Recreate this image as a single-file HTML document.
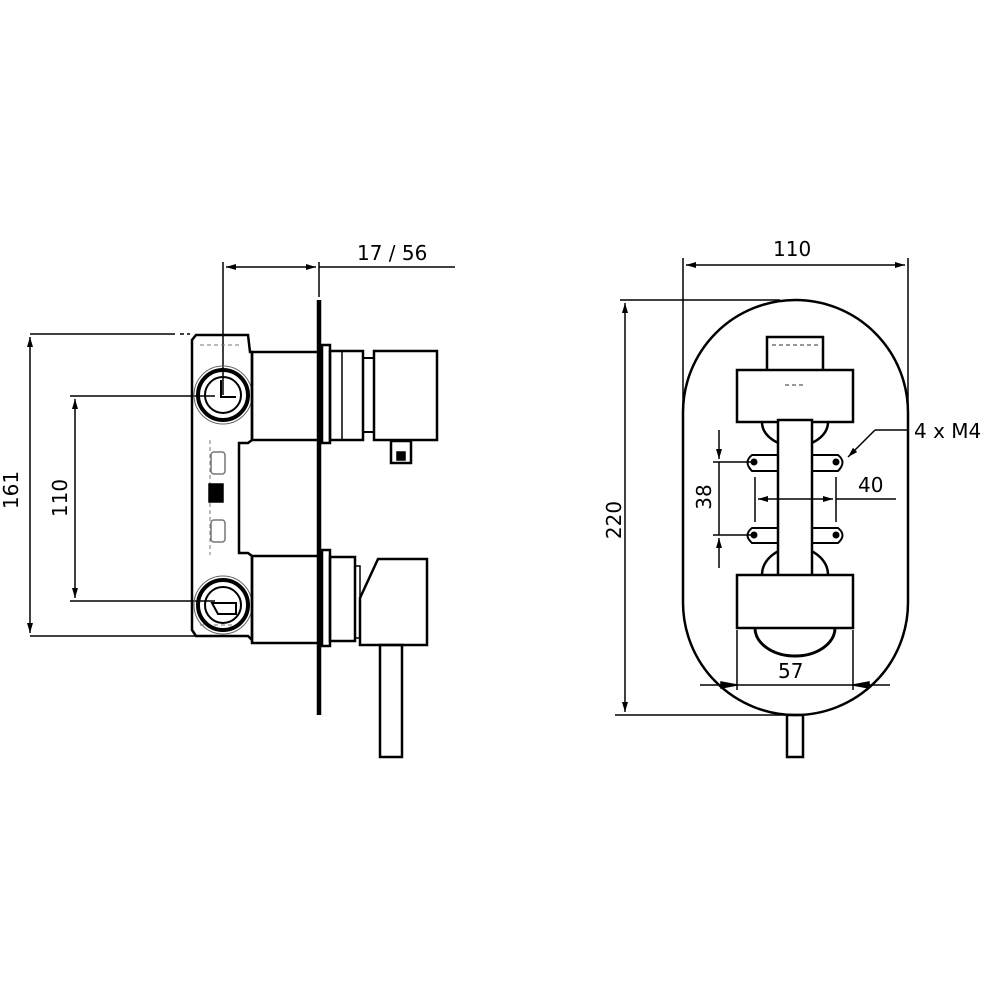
<!DOCTYPE html>
<html><head><meta charset="utf-8"><style>
html,body{margin:0;padding:0;background:#fff;width:1000px;height:1000px;overflow:hidden}
text{font-family:"DejaVu Sans","Liberation Sans",sans-serif;font-size:20px;fill:#000}
</style></head><body>
<svg width="1000" height="1000" viewBox="0 0 1000 1000" xmlns="http://www.w3.org/2000/svg">
<defs>
<marker id="a" viewBox="0 0 10 6" refX="10" refY="3" markerWidth="10" markerHeight="6" orient="auto-start-reverse" markerUnits="userSpaceOnUse"><path d="M0,0L10,3L0,6z" fill="#000"/></marker>
</defs>
<g fill="none" stroke="#000" stroke-width="1.5">
<line x1="30" y1="334" x2="175" y2="334"/>
<line x1="180" y1="334" x2="190" y2="334" stroke-dasharray="4,3"/>
<line x1="30" y1="636" x2="195" y2="636"/>
<line x1="30" y1="337" x2="30" y2="633" marker-start="url(#a)" marker-end="url(#a)"/>
<line x1="70" y1="396" x2="215" y2="396"/>
<line x1="70" y1="601" x2="215" y2="601"/>
<line x1="75" y1="399" x2="75" y2="598" marker-start="url(#a)" marker-end="url(#a)"/>
<line x1="223" y1="262" x2="223" y2="395"/>
<line x1="319" y1="262" x2="319" y2="297"/>
<line x1="226" y1="267" x2="316" y2="267" marker-start="url(#a)" marker-end="url(#a)"/>
<line x1="319" y1="267" x2="455" y2="267"/>
<path d="M196,335 L248,335 L250,352 L252,352 L252,440 L248,443 L239,443 L239,553 L248,553 L252,556 L252,640 L248,636 L196,636 L192,630 L192,340 Z" stroke-width="2.5"/>
<path d="M200,345 L240,345 M200,625 L240,625 M210,440 L210,555" stroke="#777" stroke-width="1" stroke-dasharray="4,3"/>
<circle cx="223" cy="395" r="25" stroke-width="4"/>
<circle cx="223" cy="395" r="18" stroke-width="2"/>
<circle cx="223" cy="395" r="29" stroke="#666" stroke-width="1"/>
<path d="M221,380 L221,397 L236,397" stroke-width="2"/>
<circle cx="223" cy="605" r="25" stroke-width="4"/>
<circle cx="223" cy="605" r="18" stroke-width="2"/>
<circle cx="223" cy="605" r="29" stroke="#666" stroke-width="1"/>
<path d="M212,603 L236,603 L236,614 L218,614 Z" stroke-width="2"/>
<rect x="211" y="452" width="14" height="22" rx="3" stroke="#777"/>
<rect x="211" y="520" width="14" height="22" rx="3" stroke="#777"/>
<rect x="209" y="484" width="14" height="18" fill="#000"/>
<rect x="252" y="352" width="67" height="88" stroke-width="2.5"/>
<rect x="322" y="345" width="8" height="98" stroke-width="2.5"/>
<rect x="330" y="351" width="33" height="89" stroke-width="2.5"/>
<line x1="342" y1="351" x2="342" y2="440"/>
<rect x="363" y="358" width="11" height="74" stroke-width="2"/>
<rect x="374" y="351" width="63" height="89" stroke-width="2.5"/>
<rect x="391" y="441" width="20" height="22" stroke-width="2.5"/>
<rect x="397" y="452" width="8" height="8" fill="#000"/>
<rect x="252" y="556" width="67" height="87" stroke-width="2.5"/>
<rect x="322" y="550" width="8" height="96" stroke-width="2.5"/>
<rect x="330" y="557" width="25" height="84" stroke-width="2.5"/>
<rect x="355" y="566" width="5" height="72" stroke-width="1.5"/>
<path d="M360,598 L378,559 L427,559 L427,645 L360,645 Z" stroke-width="2.5"/>
<rect x="380" y="645" width="22" height="112" stroke-width="2.5"/>
<line x1="319" y1="300" x2="319" y2="715" stroke-width="4.5"/>
<line x1="683" y1="258" x2="683" y2="405"/>
<line x1="908" y1="258" x2="908" y2="405"/>
<line x1="686" y1="265" x2="905" y2="265" marker-start="url(#a)" marker-end="url(#a)"/>
<line x1="620" y1="300" x2="780" y2="300"/>
<line x1="615" y1="715" x2="790" y2="715"/>
<line x1="625" y1="303" x2="625" y2="712" marker-start="url(#a)" marker-end="url(#a)"/>
<rect x="683" y="300" width="225" height="415" rx="112.5" ry="112.5" stroke-width="2.5"/>
<rect x="767" y="337" width="56" height="35" stroke-width="2.5"/>
<rect x="737" y="370" width="116" height="52" stroke-width="2.5" fill="#fff"/>
<path d="M762,422 A30,22 0 0,0 828,422" stroke-width="2.5"/>
<path d="M762,575 A30,25 0 0,1 828,575" stroke-width="2.5"/>
<rect x="778" y="420" width="34" height="157" stroke-width="2.5" fill="#fff"/>
<rect x="737" y="575" width="116" height="53" stroke-width="2.5" fill="#fff"/>
<path d="M755,628 A40,28 0 0,0 835,628" stroke-width="3"/>
<path d="M778,455 L752,455 Q743,462 752,471 L778,471 M812,455 L838,455 Q847,462 838,471 L812,471 M778,528 L752,528 Q743,535 752,543 L778,543 M812,528 L838,528 Q847,535 838,543 L812,543" stroke-width="2"/>
<g fill="#000" stroke="none"><circle cx="754" cy="462" r="3.5"/><circle cx="836" cy="462" r="3.5"/><circle cx="754" cy="535" r="3.5"/><circle cx="836" cy="535" r="3.5"/></g>
<path d="M772,345 L818,345 M785,385 L805,385" stroke="#777" stroke-dasharray="4,3"/>
<line x1="713" y1="462" x2="752" y2="462"/>
<line x1="713" y1="535" x2="752" y2="535"/>
<line x1="719" y1="430" x2="719" y2="459" marker-end="url(#a)"/>
<line x1="719" y1="462" x2="719" y2="535"/>
<line x1="719" y1="568" x2="719" y2="538" marker-end="url(#a)"/>
<line x1="755" y1="477" x2="755" y2="522"/>
<line x1="836" y1="477" x2="836" y2="522"/>
<line x1="758" y1="499" x2="833" y2="499" marker-start="url(#a)" marker-end="url(#a)"/>
<line x1="836" y1="499" x2="896" y2="499"/>
<line x1="737" y1="630" x2="737" y2="690"/>
<line x1="853" y1="630" x2="853" y2="690"/>
<line x1="700" y1="685" x2="890" y2="685"/>
<path d="M721,682 L737,685 L721,688 Z M869,682 L853,685 L869,688 Z" fill="#000"/>
<line x1="875" y1="430" x2="908" y2="430"/>
<line x1="875" y1="430" x2="848" y2="457" marker-end="url(#a)"/>
<rect x="787" y="715" width="16" height="42" stroke-width="2.5"/>
</g>
<text x="357" y="260">17 / 56</text>
<text x="773" y="256">110</text>
<text x="858" y="492">40</text>
<text x="778" y="678">57</text>
<text x="914" y="438">4 x M4</text>
<text transform="translate(18,490) rotate(-90)" text-anchor="middle">161</text>
<text transform="translate(67,498) rotate(-90)" text-anchor="middle">110</text>
<text transform="translate(621,520) rotate(-90)" text-anchor="middle">220</text>
<text transform="translate(711,497) rotate(-90)" text-anchor="middle">38</text>
</svg>
</body></html>
